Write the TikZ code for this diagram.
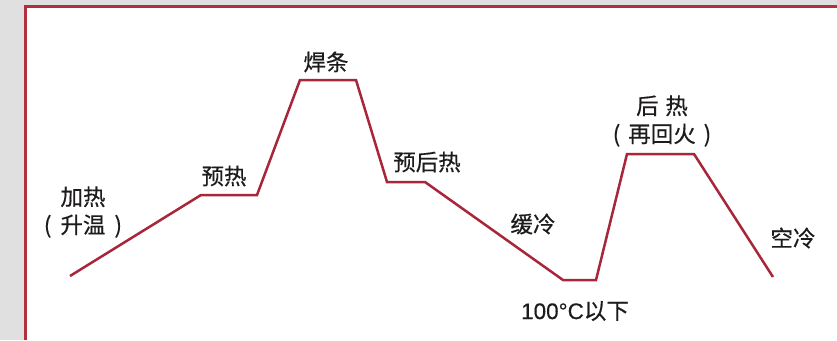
\documentclass[tikz,border=0pt]{standalone}
\usepackage{fontspec}
\newfontfamily\cjk[FakeBold=0.5]{Noto Sans CJK SC}
\newfontfamily\lat[FakeBold=0.3]{Liberation Sans}
\definecolor{curvec}{RGB}{168,38,58}
\definecolor{framec}{RGB}{176,48,64}
\definecolor{bgc}{RGB}{224,224,224}
\definecolor{txtc}{RGB}{30,27,28}
\begin{document}
\begin{tikzpicture}[x=1pt,y=-1pt,
  lbl/.style={font=\cjk\fontsize{22.5}{30}\selectfont, text=txtc, inner sep=0pt, align=center},
  curveline/.style={draw=curvec, line width=2.5pt, line join=miter}]
\useasboundingbox (0,0) rectangle (837,340);
\fill[bgc] (0,0) rectangle (837,340);
\fill[white] (25,6) rectangle (837,340);
\draw[framec, line width=3pt] (25,340) -- (25,6) -- (837,6);
\coordinate (p1) at (70,276);
\coordinate (p2) at (201,195);
\coordinate (p3) at (257,195);
\coordinate (p4) at (300,80);
\coordinate (p5) at (356,80);
\coordinate (p6) at (387,182);
\coordinate (p7) at (425,182);
\coordinate (p8) at (563,280);
\coordinate (p9) at (596,280);
\coordinate (p10) at (627,154);
\coordinate (p11) at (694,154);
\coordinate (p12) at (773,277);
\draw[curveline] (p1) -- (p2) -- (p3) -- (p4) -- (p5) -- (p6) -- (p7) -- (p8) -- (p9) -- (p10) -- (p11) -- (p12);
\node[lbl] (heat) at (83,212) {加热\\[-2pt](\hspace{0.4em}升温\hspace{0.4em})};
\node[lbl] (pre) at (224,176) {预热};
\node[lbl] (weld) at (326,62) {焊条};
\node[lbl] (posth) at (427,162) {预后热};
\node[lbl] (slow) at (533,224) {缓冷};
\node[lbl] (after) at (662,121) {后\hspace{0.3em}热\\[-2pt](\hspace{0.35em}再回火\hspace{0.35em})};
\node[lbl] (air) at (793,238) {空冷};
\node[lbl] (below) at (575,311) {{\lat 100°C}以下};
\end{tikzpicture}
\end{document}
